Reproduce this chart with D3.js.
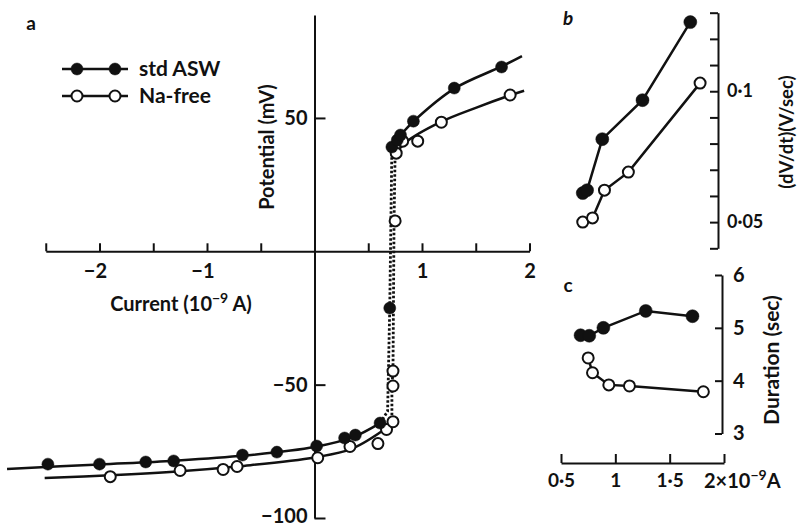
<!DOCTYPE html>
<html>
<head>
<meta charset="utf-8">
<script src="https://cdn.jsdelivr.net/npm/d3@7"></script>
<style>
body { margin: 0; background: #fff; }
text { font-family: Lato, "Open Sans", sans-serif; font-weight: 700; fill: #111; }
</style>
</head>
<body>
<div id="chart-area"></div>
<script>
// panel a: current (10^-9 A) vs potential (mV)
var stdCurrent = [-2.48, -2.00, -1.57, -1.31, -0.67, -0.35, 0.02, 0.28, 0.38, 0.61, 0.70, 0.72, 0.77, 0.80, 0.92, 1.30, 1.74];
var stdPotential = [-79.8, -79.8, -79.0, -78.6, -76.4, -75.3, -73.0, -70.0, -68.9, -64.4, -21.3, 39.1, 41.7, 43.6, 48.8, 61.2, 69.1];
var naCurrent = [-1.90, -1.25, -0.85, -0.72, 0.03, 0.33, 0.59, 0.67, 0.73, 0.73, 0.73, 0.75, 0.76, 0.82, 0.96, 1.18, 1.82];
var naPotential = [-84.5, -82.2, -81.8, -80.7, -77.4, -73.2, -72.1, -66.8, -63.9, -50.5, -44.9, 11.4, 36.8, 41.3, 41.3, 48.4, 58.6];

// hand fitted curves drawn through the points
var stdFitLow = [[-2.86, -81.6], [-2.0, -79.9], [-1.3, -78.5], [-0.65, -76.6], [0, -73.4], [0.35, -69.8], [0.61, -64.4]];
var stdFitHigh = [[0.70, 38.5], [0.80, 43.6], [0.95, 49.8], [1.3, 61], [1.74, 69.3], [1.93, 73.2]];
var naFitLow = [[-2.51, -85.0], [-1.9, -84.0], [-1.25, -82.5], [-0.7, -80.6], [0, -77.3], [0.35, -74.0], [0.68, -66]];
var naFitHigh = [[0.76, 36.8], [0.85, 40.9], [1.18, 48.6], [1.5, 53.8], [1.82, 58.5], [1.95, 60.2]];
var stdJump = [[0.61, -64.4], [0.68, -60], [0.70, -21.3], [0.72, 39.1]];
var naJump = [[0.68, -66], [0.72, -63.9], [0.72, -50.5], [0.73, -44.9], [0.74, 11.4], [0.75, 36.8]];

var aTicksX = [-2.5, -2, -1.5, -1, -0.5, 0.5, 1, 1.5, 2];
var aTicksY = [50, -50, -100];

// panel b: dV/dt (V/sec)
var bStdCurrent = [0.70, 0.74, 0.88, 1.25, 1.69];
var bStdRate = [0.0611, 0.0622, 0.0817, 0.0966, 0.1264];
var bNaCurrent = [0.70, 0.79, 0.90, 1.12, 1.78];
var bNaRate = [0.0500, 0.0516, 0.0622, 0.0691, 0.1031];
var bTicks = [0.04, 0.05, 0.06, 0.07, 0.08, 0.09, 0.10, 0.11, 0.12, 0.13];

// panel c: duration (sec)
var cStdCurrent = [0.68, 0.76, 0.89, 1.28, 1.71];
var cStdDur = [4.86, 4.85, 5.00, 5.32, 5.22];
var cNaCurrent = [0.75, 0.79, 0.94, 1.13, 1.81];
var cNaDur = [4.43, 4.15, 3.92, 3.90, 3.79];
var cTicks = [3, 4, 5, 6];
var bcTicksX = [0.5, 1, 1.5, 2];

var svg = d3.select("#chart-area").append("svg")
    .attr("width", 799)
    .attr("height", 525);

function zip(xs, ys) { return xs.map((x, i) => [x, ys[i]]); }

function styleAxis(g, size) {
    g.select(".domain").attr("stroke", "#111").attr("stroke-width", 2);
    g.selectAll(".tick line").attr("stroke", "#111").attr("stroke-width", 2);
    g.selectAll(".tick text").style("font-size", size + "px").attr("fill", "#111");
}

function markers(g, pts, x, y, filled, r) {
    g.selectAll(null).data(pts).enter().append("circle")
        .attr("cx", d => x(d[0]))
        .attr("cy", d => y(d[1]))
        .attr("r", r)
        .attr("fill", filled ? "#111" : "#fff")
        .attr("stroke", "#111")
        .attr("stroke-width", filled ? 0.5 : 2);
}

// ---------- panel a ----------
var xA = d3.scaleLinear().domain([-2.5, 2]).range([45.75, 529.5]);
var yA = d3.scaleLinear().domain([-100, 88.6]).range([518, 15]);
var gA = svg.append("g");

var lineA = d3.line().x(d => xA(d[0])).y(d => yA(d[1])).curve(d3.curveCatmullRom);
var jumpA = d3.line().x(d => xA(d[0])).y(d => yA(d[1]));

[stdFitLow, stdFitHigh, naFitLow, naFitHigh].forEach(f => {
    gA.append("path").attr("d", lineA(f)).attr("fill", "none")
        .attr("stroke", "#111").attr("stroke-width", 2.5);
});

var xAxisA = gA.append("g")
    .attr("transform", "translate(0," + yA(0) + ")")
    .call(d3.axisBottom(xA).tickValues(aTicksX).tickSize(-8).tickSizeOuter(0).tickPadding(13)
        .tickFormat(d => (d % 1 === 0) ? d3.format("d")(d) : ""));
styleAxis(xAxisA, 20);
xAxisA.selectAll(".tick text")
    .attr("text-anchor", d => d < 0 ? "end" : "middle")
    .attr("x", d => d < 0 ? 7 : 0);

var yAxisA = gA.append("g")
    .attr("transform", "translate(" + xA(0) + ",0)")
    .call(d3.axisLeft(yA).tickValues(aTicksY).tickSize(-11).tickSizeOuter(0).tickPadding(7)
        .tickFormat(d3.format("d")));
styleAxis(yAxisA, 20);
yAxisA.selectAll(".tick text").attr("dy", d => d === -100 ? "0.2em" : "0.32em");

[stdJump, naJump].forEach(f => {
    gA.append("path").attr("d", jumpA(f)).attr("fill", "none")
        .attr("stroke", "#111").attr("stroke-width", 2.8)
        .attr("stroke-dasharray", "2.5,2");
});

markers(gA, zip(naCurrent, naPotential), xA, yA, false, 5.5);
markers(gA, zip(stdCurrent, stdPotential), xA, yA, true, 6);

gA.append("text").attr("x", 31).attr("y", 30).attr("text-anchor", "middle")
    .style("font-size", "19px").text("a");

gA.append("text")
    .attr("transform", "translate(267,147) rotate(-90)")
    .attr("text-anchor", "middle").attr("dy", "0.35em")
    .style("font-size", "20px").text("Potential (mV)");

var curLabel = gA.append("text").attr("x", 181).attr("y", 311)
    .attr("text-anchor", "middle").style("font-size", "20px");
curLabel.append("tspan").text("Current (10");
curLabel.append("tspan").attr("dy", -8).style("font-size", "14px").text("\u22129");
curLabel.append("tspan").attr("dy", 8).text(" A)");

// legend
var legend = [["std ASW", true, 69], ["Na-free", false, 96]];
legend.forEach(l => {
    gA.append("line").attr("x1", 62).attr("x2", 128).attr("y1", l[2]).attr("y2", l[2])
        .attr("stroke", "#111").attr("stroke-width", 2.5);
    markers(gA, [[77, l[2]], [115, l[2]]], d => d, d => d, l[1], l[1] ? 6 : 5.5);
    gA.append("text").attr("x", 139).attr("y", l[2]).attr("dy", "0.35em")
        .style("font-size", "21px").text(l[0]);
});

// ---------- panels b and c ----------
var xBC = d3.scaleLinear().domain([0.5, 2]).range([561, 724]);
var yB = d3.scaleLinear().domain([0.04, 0.13]).range([248.3, 12.7]);
var yC = d3.scaleLinear().domain([3, 6]).range([433.5, 275]);
var lineB = d3.line().x(d => xBC(d[0])).y(d => yB(d[1]));
var lineC = d3.line().x(d => xBC(d[0])).y(d => yC(d[1]));
var gB = svg.append("g");

[zip(bStdCurrent, bStdRate), zip(bNaCurrent, bNaRate)].forEach(p => {
    gB.append("path").attr("d", lineB(p)).attr("fill", "none")
        .attr("stroke", "#111").attr("stroke-width", 2.5);
});
[zip(cStdCurrent, cStdDur), zip(cNaCurrent, cNaDur)].forEach(p => {
    gB.append("path").attr("d", lineC(p)).attr("fill", "none")
        .attr("stroke", "#111").attr("stroke-width", 2.5);
});

var yAxisB = gB.append("g").attr("transform", "translate(718,0)")
    .call(d3.axisRight(yB).tickValues(bTicks).tickSize(-8).tickSizeOuter(0).tickPadding(9)
        .tickFormat(d => Math.abs(d - 0.1) < 1e-6 ? "0\u00b71" : Math.abs(d - 0.05) < 1e-6 ? "0\u00b705" : ""));
styleAxis(yAxisB, 18);

var yAxisC = gB.append("g").attr("transform", "translate(722,0)")
    .call(d3.axisRight(yC).tickValues(cTicks).tickSize(-7).tickSizeOuter(0).tickPadding(11)
        .tickFormat(d3.format("d")));
styleAxis(yAxisC, 20);

var xAxisBC = gB.append("g").attr("transform", "translate(0,463)")
    .call(d3.axisBottom(xBC).tickValues(bcTicksX).tickSize(-9).tickSizeOuter(0).tickPadding(11)
        .tickFormat(d => d === 2 ? "" : String(d).replace(".", "\u00b7")));
styleAxis(xAxisBC, 19);

var unitLabel = gB.append("text").attr("x", 704).attr("y", 488).style("font-size", "20px");
unitLabel.append("tspan").text("2\u00d710");
unitLabel.append("tspan").attr("dy", -8).style("font-size", "14px").text("\u22129");
unitLabel.append("tspan").attr("dy", 8).text("A");

markers(gB, zip(bNaCurrent, bNaRate), xBC, yB, false, 5.5);
markers(gB, zip(bStdCurrent, bStdRate), xBC, yB, true, 6.5);
markers(gB, zip(cNaCurrent, cNaDur), xBC, yC, false, 5.5);
markers(gB, zip(cStdCurrent, cStdDur), xBC, yC, true, 6.5);

gB.append("text").attr("x", 568).attr("y", 25).attr("text-anchor", "middle")
    .style("font-size", "19px").style("font-style", "italic").text("b");
gB.append("text").attr("x", 568).attr("y", 292).attr("text-anchor", "middle")
    .style("font-size", "19px").text("c");

gB.append("text")
    .attr("transform", "translate(787,132) rotate(-90)")
    .attr("text-anchor", "middle").attr("dy", "0.35em")
    .style("font-size", "18.5px").text("(dV/dt)(V/sec)");
gB.append("text")
    .attr("transform", "translate(772,360) rotate(-90)")
    .attr("text-anchor", "middle").attr("dy", "0.35em")
    .style("font-size", "21px").text("Duration (sec)");
</script>
</body>
</html>
